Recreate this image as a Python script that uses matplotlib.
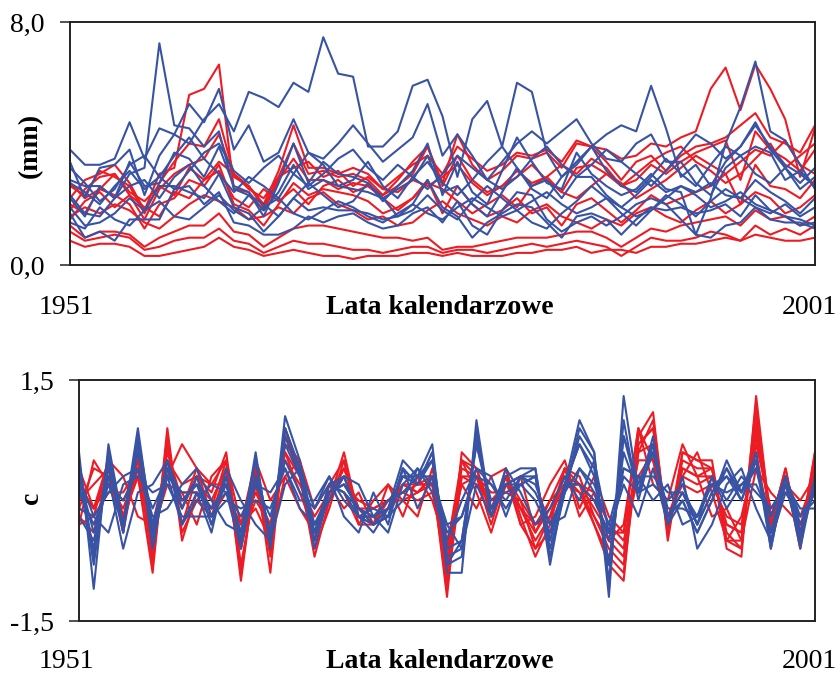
import numpy as np
import matplotlib
matplotlib.use('Agg')
import matplotlib.pyplot as plt

plt.rcParams['font.family'] = ['Liberation Serif', 'DejaVu Serif']

RED = '#ED1C24'
BLUE = '#3953A4'

years = np.arange(1951, 2002)

# górny wykres - opady (mm)
top_red = [
    [0.8,0.6,0.7,0.7,0.6,0.3,0.3,0.4,0.5,0.6,0.9,0.6,0.5,0.3,0.4,0.5,0.4,0.3,0.3,0.2,0.3,0.3,0.3,0.4,0.4,0.3,0.4,0.3,0.3,0.3,0.4,0.4,0.5,0.5,0.6,0.4,0.5,0.5,0.4,0.6,0.6,0.7,0.7,0.8,0.9,0.8,1.0,0.9,0.8,0.8,0.9],
    [1.1,0.8,0.9,1.0,0.9,0.5,0.6,0.8,0.9,0.9,1.2,0.8,0.7,0.4,0.6,0.8,0.7,0.7,0.6,0.5,0.5,0.4,0.5,0.6,0.6,0.4,0.5,0.5,0.4,0.5,0.6,0.7,0.6,0.7,0.8,0.7,0.6,0.3,0.6,0.9,0.8,0.8,0.9,1.1,1.0,0.8,1.3,1.0,1.2,1.0,1.3],
    [1.3,0.9,1.1,1.1,1.0,0.6,0.9,1.1,1.3,1.3,1.7,1.1,1.0,0.6,0.9,1.2,1.3,1.3,1.2,1.1,1.0,0.9,0.9,0.8,0.9,0.5,0.6,0.6,0.7,0.8,0.9,0.9,0.9,1.0,1.1,1.1,0.9,0.6,0.9,1.2,1.1,1.3,1.4,1.5,1.6,1.3,1.8,1.5,1.6,1.3,1.6],
    [1.6,1.9,1.7,2.0,1.8,1.4,1.2,1.6,2.0,2.3,2.1,1.9,1.5,1.6,1.9,1.7,2.2,2.4,2.0,1.8,1.5,1.6,1.3,1.4,1.8,2.1,1.7,1.5,1.3,1.6,1.4,1.8,2.0,1.6,1.4,1.2,1.5,1.3,1.7,1.9,1.6,1.4,1.8,2.1,1.7,2.0,2.4,2.2,1.7,1.9,2.3],
    [2.0,1.7,2.5,2.3,2.0,1.2,2.0,2.2,2.8,2.6,3.3,2.0,1.8,1.3,2.0,2.7,2.3,2.5,2.4,2.3,2.1,1.7,1.9,2.2,2.8,1.7,2.6,2.0,1.6,1.8,2.2,1.7,1.9,1.3,2.0,2.2,1.8,1.4,1.8,2.3,2.0,2.2,2.4,2.6,3.0,2.0,3.3,2.6,2.5,2.2,2.8],
    [2.7,2.2,2.5,3.0,2.4,2.1,2.6,2.3,3.2,2.8,3.4,3.0,2.5,2.2,2.9,3.2,3.4,2.9,3.1,2.6,2.9,2.5,2.4,2.8,2.6,2.9,3.3,2.7,2.3,2.6,2.9,3.3,2.8,2.4,2.2,2.6,3.0,2.7,2.2,2.5,2.8,3.2,3.6,3.3,3.0,3.4,3.8,3.6,4.1,3.3,3.0],
    [2.6,2.3,3.1,2.9,2.6,1.7,2.7,3.4,4.0,3.9,4.8,3.0,2.6,1.9,2.9,4.0,3.0,3.1,2.9,3.0,2.8,2.3,2.6,3.0,3.9,2.6,3.6,2.8,2.4,2.6,3.1,2.7,2.9,2.4,3.2,3.3,3.0,2.6,2.8,3.3,3.0,3.4,3.7,3.9,4.1,2.8,4.4,3.8,3.5,3.1,3.8],
    [2.2,2.8,3.0,3.3,2.7,1.8,3.0,3.2,5.6,5.8,6.6,2.5,2.4,1.8,2.8,3.5,2.8,2.8,2.5,2.7,2.6,2.3,2.8,3.4,3.9,2.7,4.3,3.3,2.8,3.1,3.6,3.5,3.7,3.2,4.0,3.9,3.4,2.8,3.4,3.6,3.1,3.6,3.9,4.0,4.2,4.6,5.0,4.2,4.0,3.7,4.6],
    [1.8,2.5,2.9,3.0,2.3,1.5,2.5,3.0,3.3,3.5,4.3,2.9,2.6,2.0,3.1,4.6,3.2,3.2,3.0,3.2,3.0,2.5,2.9,3.3,3.6,3.0,3.9,3.5,3.1,3.3,3.7,3.6,3.8,3.4,4.1,3.9,3.8,3.5,3.6,4.0,3.9,4.2,4.4,5.8,6.5,5.1,6.6,5.8,4.8,2.9,4.5],
    [1.5,2.1,2.4,1.9,2.3,1.9,1.6,2.4,2.2,2.8,3.1,2.2,1.9,2.5,2.1,2.5,2.0,2.6,2.8,2.4,2.6,2.2,1.8,2.2,2.7,2.5,2.1,1.7,2.0,2.3,1.9,2.6,2.9,3.3,3.0,3.5,3.2,2.6,3.0,3.4,3.7,3.9,3.4,3.1,2.7,3.0,3.5,4.0,3.2,3.6,4.0],
]

top_blue = [
    [2.2,1.6,2.6,2.2,3.0,3.2,7.3,4.6,4.5,3.9,4.4,2.5,2.3,1.8,2.4,3.3,2.5,2.8,2.6,2.5,2.4,2.2,2.5,2.8,3.6,2.4,2.6,2.0,1.6,2.4,3.2,2.6,2.8,2.2,2.9,2.9,2.3,1.9,2.3,2.8,2.4,2.6,2.4,2.7,2.3,2.2,2.8,2.4,2.1,1.7,2.2],
    [3.4,2.2,3.2,3.3,3.8,2.3,3.6,4.3,4.0,4.8,5.3,4.4,5.7,5.5,5.2,6.0,5.7,7.5,6.3,6.2,3.9,3.9,4.4,5.9,6.1,4.9,2.9,4.8,5.4,3.9,6.0,5.7,3.7,2.9,3.3,3.9,4.3,4.6,4.4,5.9,4.5,2.9,3.3,2.6,3.4,3.9,4.7,3.8,3.2,2.7,3.2],
    [3.8,3.3,3.3,3.5,4.7,3.5,4.5,4.3,5.3,4.7,5.8,3.8,4.6,3.4,3.7,4.8,3.7,3.5,4.0,4.6,4.0,3.4,3.8,4.2,5.3,3.6,4.3,3.6,2.8,3.4,4.0,4.4,4.0,4.4,4.8,4.0,3.5,3.4,4.0,4.3,3.4,3.4,2.7,2.3,3.2,3.6,3.9,3.7,2.8,3.1,2.6],
    [2.7,2.4,2.0,2.6,3.1,2.5,2.9,3.6,4.2,3.5,3.0,2.4,2.9,2.6,2.2,3.0,3.7,3.3,2.6,2.8,3.4,2.6,2.2,2.9,3.4,2.7,2.3,2.8,3.4,3.9,3.2,2.5,2.2,2.9,3.4,3.9,3.1,2.6,2.4,2.9,3.5,3.0,2.6,3.3,3.9,3.6,3.0,2.7,3.2,2.5,2.9],
    [2.3,1.7,1.6,2.2,2.6,2.8,2.2,2.9,3.3,2.6,2.1,1.7,2.3,2.0,1.6,2.2,2.7,2.3,1.9,2.1,2.7,2.2,1.6,1.8,2.3,1.8,1.5,2.1,2.6,2.2,1.8,1.4,1.2,1.7,2.1,2.6,2.2,1.7,1.3,1.8,2.3,2.0,1.6,2.1,2.5,2.2,1.9,1.7,2.0,1.6,1.9],
    [1.9,1.3,1.4,1.7,2.2,1.8,2.6,2.6,2.4,2.2,3.0,1.9,1.7,1.1,1.6,2.2,1.8,1.9,1.8,1.8,1.7,1.5,1.6,2.0,2.8,1.9,1.6,0.9,1.4,1.7,2.0,1.9,1.4,0.9,1.6,1.7,1.5,1.0,1.5,1.9,1.8,1.9,1.7,1.8,2.0,1.6,2.3,1.8,1.6,1.3,1.4],
    [1.7,0.9,1.1,0.8,1.5,1.5,1.5,2.5,2.6,2.0,2.4,1.4,1.3,1.0,1.0,1.2,1.6,1.4,1.6,1.7,1.4,1.2,1.3,1.7,1.9,1.4,2.1,1.3,1.0,1.8,2.4,2.3,1.5,1.1,1.4,1.6,1.3,1.6,2.0,2.2,2.0,1.5,1.0,0.9,1.3,1.4,1.9,1.5,1.4,1.4,1.2],
    [2.8,2.6,2.6,2.2,3.4,2.6,2.7,3.7,3.5,2.9,3.9,2.6,2.4,1.6,2.7,4.0,2.7,3.4,3.0,2.9,2.7,2.1,2.6,3.1,4.0,2.3,3.4,2.4,2.0,3.1,4.2,3.4,2.7,2.5,3.7,3.0,2.6,2.3,2.5,3.0,2.5,2.4,1.0,2.2,4.0,5.2,6.7,4.4,4.1,3.3,2.5],
    [3.2,2.7,2.1,2.5,3.3,3.6,2.9,2.5,3.1,3.7,4.0,3.1,2.7,3.2,3.6,3.0,2.6,3.0,3.5,3.8,3.2,2.8,3.3,2.9,2.5,3.0,3.6,3.2,2.8,2.5,2.9,3.5,3.9,3.3,2.9,3.3,3.8,3.4,3.0,2.6,3.1,3.7,4.3,4.0,3.5,3.9,4.6,3.9,3.3,3.0,2.6],
    [1.4,1.2,1.9,1.5,1.3,1.8,2.1,1.6,1.5,1.9,2.3,1.8,1.5,1.9,2.2,1.7,1.5,1.8,2.1,1.9,1.6,1.4,1.7,2.0,1.7,1.5,1.9,2.2,1.9,1.6,1.8,2.1,2.4,2.0,1.7,1.9,2.2,1.9,1.6,1.8,2.2,2.6,2.3,1.9,2.1,2.4,2.0,1.8,1.6,1.5,1.3],
]

# dolny wykres - wskaźnik c
bot_red = [
    [-0.3,-0.2,0.5,-0.2,0.3,-0.9,0.9,-0.5,0.1,-0.1,0.5,-1.0,0.4,-0.9,0.9,0.3,-0.7,0.0,0.6,-0.2,-0.2,-0.1,0.2,0.1,0.3,-1.2,0.6,0.4,-0.2,0.4,-0.2,-0.7,-0.3,0.4,0.2,-0.3,-0.8,-1.0,0.8,1.1,-0.5,0.6,0.5,0.5,-0.6,-0.7,1.3,-0.3,0.4,-0.5,0.6],
    [-0.1,0.4,0.3,-0.3,0.4,-0.7,0.7,-0.3,0.3,0.1,0.6,-0.8,0.2,-0.6,0.8,0.4,-0.5,0.1,0.4,-0.1,-0.3,0.0,0.1,0.2,0.2,-1.0,0.5,0.3,-0.1,0.3,-0.1,-0.5,-0.2,0.3,0.1,-0.2,-0.6,-0.8,0.7,0.9,-0.4,0.5,0.4,0.4,-0.5,-0.6,1.1,-0.2,0.3,-0.4,0.5],
    [0.4,-0.1,0.5,0.3,-0.2,-0.3,0.3,0.7,0.4,-0.2,0.1,-0.3,0.5,0.0,0.3,-0.1,-0.4,0.2,-0.1,0.1,-0.3,0.2,0.0,-0.2,0.4,-0.5,0.2,-0.1,0.3,0.4,-0.3,-0.2,0.2,0.5,-0.1,0.3,-0.2,-0.4,0.9,0.2,0.0,0.7,0.3,-0.2,-0.1,-0.5,0.4,0.1,-0.1,-0.3,0.2],
    [-0.2,-0.4,0.4,-0.2,0.5,-0.8,0.8,-0.4,0.0,-0.2,0.4,-0.9,0.3,-0.7,0.8,0.4,-0.6,-0.1,0.5,-0.2,-0.3,-0.2,0.2,0.1,0.3,-1.1,0.3,0.3,-0.3,0.3,-0.3,-0.6,-0.4,0.2,0.1,-0.3,-0.7,-0.9,0.6,1.0,-0.4,0.4,0.3,0.4,-0.5,-0.5,1.2,-0.4,0.3,-0.6,0.5],
    [0.2,-0.1,0.2,0.0,0.3,-0.3,0.5,0.2,0.3,0.2,0.2,-0.4,0.1,-0.3,0.5,0.2,-0.2,0.1,0.2,0.0,-0.1,0.0,0.0,0.1,0.2,-0.6,0.2,0.3,0.1,0.1,0.0,-0.3,0.0,0.2,0.2,0.1,-0.3,-0.5,0.3,0.6,-0.2,0.2,0.1,0.2,-0.2,-0.3,0.7,-0.1,0.1,-0.2,0.3],
    [-0.3,0.5,0.2,-0.1,0.4,-0.4,0.2,0.1,-0.3,0.3,0.5,-0.3,-0.1,-0.5,0.3,0.5,-0.1,0.2,0.1,-0.3,0.0,0.2,-0.2,0.3,0.0,-0.6,0.5,0.1,-0.4,0.2,0.3,-0.4,0.0,0.4,-0.2,0.1,-0.5,-0.3,0.9,0.5,-0.2,0.3,0.6,0.1,-0.5,-0.2,0.6,-0.4,0.2,0.0,0.3],
    [-0.1,-0.2,0.1,0.1,0.4,-0.4,0.3,0.1,0.1,-0.1,0.2,-0.5,0.0,-0.3,0.6,0.1,-0.4,0.0,0.3,-0.1,-0.2,0.0,0.1,0.0,0.1,-0.7,0.3,0.2,0.0,0.2,-0.1,-0.3,-0.2,0.2,0.2,-0.1,-0.4,-0.4,0.5,0.5,-0.3,0.3,0.2,0.3,-0.3,-0.4,0.8,-0.2,0.2,-0.3,0.2],
    [0.0,0.2,0.4,-0.4,0.6,-0.6,0.5,-0.1,0.4,0.2,0.5,-0.6,0.5,-0.6,0.7,0.5,-0.5,0.2,0.5,-0.3,-0.3,-0.1,0.3,0.2,0.3,-0.9,0.5,0.4,-0.1,0.3,0.0,-0.6,-0.2,0.4,0.3,-0.2,-0.5,-0.7,0.7,0.9,-0.4,0.6,0.5,0.4,-0.4,-0.6,1.0,-0.3,0.4,-0.5,0.6],
    [0.1,-0.1,0.3,-0.2,0.3,-0.5,0.6,0.0,0.2,0.0,0.4,-0.6,0.2,-0.4,0.6,0.3,-0.3,0.0,0.4,-0.1,-0.1,0.0,0.2,0.2,0.2,-0.8,0.4,0.3,-0.1,0.3,-0.1,-0.4,-0.1,0.3,0.2,0.0,-0.4,-0.6,0.6,0.7,-0.3,0.4,0.3,0.3,-0.3,-0.4,0.9,-0.2,0.3,-0.4,0.4],
]

bot_blue = [
    [0.6,-1.1,0.7,-0.3,0.9,-0.4,0.5,0.0,0.2,-0.3,0.3,-0.5,0.6,-0.6,1.05,0.5,-0.4,0.2,0.3,-0.2,-0.4,-0.1,0.5,0.3,0.7,-0.9,-0.9,1.0,-0.2,0.3,0.4,0.4,-0.8,0.2,1.0,0.6,-1.2,1.3,0.1,0.8,-0.3,0.0,-0.4,0.0,0.5,0.1,0.6,-0.6,0.3,-0.6,0.3],
    [0.4,-0.8,0.5,-0.4,0.8,-0.3,0.4,-0.1,0.3,-0.2,0.2,-0.4,0.5,-0.5,0.9,0.4,-0.3,0.1,0.2,-0.1,-0.3,-0.2,0.4,0.2,0.6,-0.7,-0.6,0.8,-0.1,0.2,0.3,0.3,-0.6,0.1,0.8,0.5,-1.0,0.8,0.2,0.7,-0.2,0.1,-0.3,0.1,0.4,0.1,0.5,-0.5,0.2,-0.5,0.2],
    [0.2,-0.6,0.4,-0.3,0.7,-0.5,0.3,0.1,0.1,-0.1,0.1,-0.6,0.3,-0.4,0.8,0.3,-0.5,0.2,0.1,-0.2,-0.2,-0.1,0.3,0.3,0.5,-0.8,-0.5,0.7,0.0,0.1,0.2,0.3,-0.5,0.2,0.7,0.3,-0.8,0.6,0.1,0.6,-0.1,-0.1,-0.2,0.2,0.3,0.0,0.5,-0.4,0.3,-0.4,0.2],
    [-0.2,-0.5,0.3,-0.6,0.1,0.2,0.5,-0.3,0.1,-0.4,0.4,0.0,-0.3,-0.5,0.2,0.4,-0.1,0.3,-0.2,-0.4,0.1,-0.3,0.4,-0.1,0.3,-0.3,-0.6,0.2,-0.2,0.4,0.1,-0.3,-0.1,0.3,0.0,0.5,-0.4,0.2,-0.2,0.4,-0.3,0.3,-0.6,-0.3,0.2,0.4,-0.1,-0.5,0.1,-0.2,0.0],
    [0.3,-0.2,0.1,0.3,0.4,-0.2,-0.1,0.2,0.4,0.0,-0.3,-0.4,0.2,0.1,0.4,-0.1,-0.3,0.0,0.3,0.2,-0.2,-0.4,0.2,0.4,0.1,-0.5,0.0,0.4,0.3,-0.2,0.3,0.2,-0.3,-0.2,0.4,0.2,-0.3,0.4,0.3,0.0,0.2,-0.3,-0.2,0.3,-0.1,0.2,0.4,-0.2,0.3,-0.3,0.1],
    [0.1,-0.3,0.2,0.0,0.4,-0.1,0.3,-0.3,0.0,0.2,0.1,-0.2,0.2,-0.2,0.5,0.1,-0.1,0.2,0.1,-0.1,-0.2,0.0,0.1,0.3,0.3,-0.4,-0.2,0.4,0.2,0.0,0.3,0.1,-0.3,0.1,0.4,0.1,-0.5,0.4,0.3,0.3,0.1,0.1,-0.2,0.2,0.1,0.2,0.2,-0.2,0.3,-0.2,0.1],
    [0.5,-0.7,0.6,-0.4,0.8,-0.6,0.4,-0.1,0.3,-0.3,0.3,-0.5,0.5,-0.5,0.9,0.4,-0.6,0.1,0.3,-0.2,-0.3,-0.2,0.4,0.2,0.6,-0.8,-0.7,0.9,-0.2,0.2,0.3,0.4,-0.7,0.1,0.9,0.6,-1.1,1.0,0.0,0.7,-0.2,0.0,-0.4,0.0,0.4,0.0,0.5,-0.6,0.3,-0.5,0.3],
    [-0.1,-0.2,-0.4,0.2,0.3,0.1,0.2,-0.2,-0.2,-0.2,0.0,-0.1,0.0,-0.1,0.4,0.0,0.0,0.3,0.0,-0.2,-0.1,-0.2,0.0,0.4,0.2,-0.3,-0.2,0.3,0.2,-0.1,0.2,0.0,-0.4,0.2,0.2,0.0,-0.4,0.3,0.1,0.2,0.0,0.2,-0.3,0.3,0.0,0.3,0.1,-0.1,0.2,-0.1,-0.1],
    [0.3,-0.4,0.2,-0.3,0.6,-0.3,0.4,0.0,0.2,-0.1,0.2,-0.4,0.3,-0.4,0.7,0.3,-0.4,0.1,0.2,-0.1,-0.3,-0.1,0.3,0.2,0.5,-0.6,-0.5,0.7,-0.1,0.2,0.2,0.3,-0.5,0.2,0.7,0.4,-0.8,0.8,0.1,0.6,-0.2,0.1,-0.3,0.1,0.3,0.1,0.4,-0.4,0.2,-0.4,0.2],
]

FS = 20


def style_axes(ax, ymin, ymax, labels):
    ax.set_xlim(years[0], years[-1])
    ax.set_ylim(ymin, ymax)
    ax.set_xticks([])
    ax.set_yticks([ymin, ymax])
    ax.set_yticklabels(labels, fontsize=FS)
    ax.tick_params(axis='y', direction='out', length=7, width=1.2, pad=11, color='#333333')
    for s in ax.spines.values():
        s.set_linewidth(1.4)
        s.set_color('#222222')


fig = plt.figure(figsize=(8.37, 6.73), dpi=100)
ax1 = fig.add_axes([0.0836, 0.6062, 0.8901, 0.3611])
ax2 = fig.add_axes([0.0944, 0.0773, 0.8793, 0.3581])

for s in top_red:
    ax1.plot(years, s, color=RED, lw=1.5)
for s in top_blue:
    ax1.plot(years, s, color=BLUE, lw=1.5)
style_axes(ax1, 0.0, 8.0, ['0,0', '8,0'])

ax2.axhline(0, color='black', lw=0.7, zorder=1)
for s in bot_red:
    ax2.plot(years, s, color=RED, lw=1.5)
for s in bot_blue:
    ax2.plot(years, s, color=BLUE, lw=1.5)
style_axes(ax2, -1.5, 1.5, ['-1,5', '1,5'])

# opisy osi y
fig.text(30 / 837, 1 - 145 / 673, '(mm)', fontsize=FS, fontweight='bold',
         rotation=90, ha='center', va='center')
fig.text(32 / 837, 1 - 498 / 673, 'c', fontsize=FS, fontweight='bold',
         rotation=90, ha='center', va='center')

# opisy osi x
for y in (1 - 308 / 673, 1 - 662 / 673):
    fig.text(66 / 837, y, '1951', fontsize=FS, ha='center', va='center')
    fig.text(809 / 837, y, '2001', fontsize=FS, ha='center', va='center')
    fig.text(440 / 837, y, 'Lata kalendarzowe', fontsize=FS, fontweight='bold',
             ha='center', va='center')

fig.savefig('out.png', dpi=100)
